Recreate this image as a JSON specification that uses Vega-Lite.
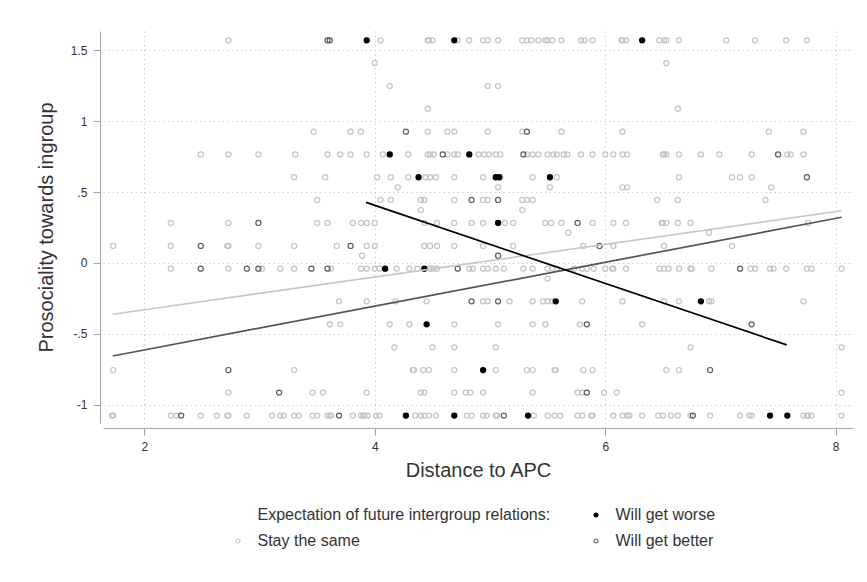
{
"$schema": "https://vega.github.io/schema/vega-lite/v6.json",
"width": 750, "height": 392,
"autosize": {"type": "none"},
"padding": {"left": 103, "top": 31, "right": 14, "bottom": 159},
"background": "white",
"config": {"view": {"stroke": null}, "font": "Liberation Sans",
 "axis": {"domain": true, "domainColor": "#a8a8a8", "domainWidth": 1, "grid": true, "gridColor": "#b8b8b8", "gridDash": [1, 3.6], "gridWidth": 1, "tickSize": 7, "tickColor": "#a0a0a0", "tickWidth": 1, "labelFontSize": 12, "labelColor": "#333333", "labelPadding": 6, "titleFontSize": 20, "titleFontWeight": "normal", "titleColor": "#333333", "labelFlush": false}},
"datasets": {
"pts": [
{"x":2.73,"y":1.568,"g":"Stay the same"},{"x":4.05,"y":1.568,"g":"Stay the same"},{"x":4.46,"y":1.568,"g":"Stay the same"},{"x":4.47,"y":1.568,"g":"Stay the same"},{"x":4.50,"y":1.568,"g":"Stay the same"},{"x":4.72,"y":1.568,"g":"Stay the same"},{"x":4.82,"y":1.568,"g":"Stay the same"},{"x":4.94,"y":1.568,"g":"Stay the same"},{"x":4.98,"y":1.568,"g":"Stay the same"},{"x":5.07,"y":1.568,"g":"Stay the same"},{"x":5.28,"y":1.568,"g":"Stay the same"},{"x":5.32,"y":1.568,"g":"Stay the same"},{"x":5.36,"y":1.568,"g":"Stay the same"},{"x":5.42,"y":1.568,"g":"Stay the same"},{"x":5.48,"y":1.568,"g":"Stay the same"},{"x":5.50,"y":1.568,"g":"Stay the same"},{"x":5.54,"y":1.568,"g":"Stay the same"},{"x":5.62,"y":1.568,"g":"Stay the same"},{"x":5.79,"y":1.568,"g":"Stay the same"},{"x":5.82,"y":1.568,"g":"Stay the same"},{"x":5.89,"y":1.568,"g":"Stay the same"},{"x":6.14,"y":1.568,"g":"Stay the same"},{"x":6.15,"y":1.568,"g":"Stay the same"},{"x":6.18,"y":1.568,"g":"Stay the same"},{"x":6.47,"y":1.568,"g":"Stay the same"},{"x":6.51,"y":1.568,"g":"Stay the same"},{"x":6.53,"y":1.568,"g":"Stay the same"},{"x":6.64,"y":1.568,"g":"Stay the same"},{"x":7.05,"y":1.568,"g":"Stay the same"},{"x":7.30,"y":1.568,"g":"Stay the same"},{"x":7.57,"y":1.568,"g":"Stay the same"},{"x":7.75,"y":1.568,"g":"Stay the same"},
{"x":4.00,"y":1.408,"g":"Stay the same"},{"x":6.53,"y":1.408,"g":"Stay the same"},
{"x":4.13,"y":1.246,"g":"Stay the same"},{"x":4.98,"y":1.246,"g":"Stay the same"},{"x":5.07,"y":1.246,"g":"Stay the same"},
{"x":4.46,"y":1.087,"g":"Stay the same"},{"x":6.63,"y":1.087,"g":"Stay the same"},
{"x":3.47,"y":0.925,"g":"Stay the same"},{"x":3.79,"y":0.925,"g":"Stay the same"},{"x":3.88,"y":0.925,"g":"Stay the same"},{"x":4.46,"y":0.925,"g":"Stay the same"},{"x":4.63,"y":0.925,"g":"Stay the same"},{"x":4.69,"y":0.925,"g":"Stay the same"},{"x":4.98,"y":0.925,"g":"Stay the same"},{"x":5.28,"y":0.925,"g":"Stay the same"},{"x":5.62,"y":0.925,"g":"Stay the same"},{"x":6.15,"y":0.925,"g":"Stay the same"},{"x":7.42,"y":0.925,"g":"Stay the same"},{"x":7.72,"y":0.925,"g":"Stay the same"},
{"x":2.49,"y":0.765,"g":"Stay the same"},{"x":2.73,"y":0.765,"g":"Stay the same"},{"x":2.99,"y":0.765,"g":"Stay the same"},{"x":3.31,"y":0.765,"g":"Stay the same"},{"x":3.59,"y":0.765,"g":"Stay the same"},{"x":3.70,"y":0.765,"g":"Stay the same"},{"x":3.79,"y":0.765,"g":"Stay the same"},{"x":3.93,"y":0.765,"g":"Stay the same"},{"x":4.07,"y":0.765,"g":"Stay the same"},{"x":4.29,"y":0.765,"g":"Stay the same"},{"x":4.46,"y":0.765,"g":"Stay the same"},{"x":4.48,"y":0.765,"g":"Stay the same"},{"x":4.51,"y":0.765,"g":"Stay the same"},{"x":4.63,"y":0.765,"g":"Stay the same"},{"x":4.69,"y":0.765,"g":"Stay the same"},{"x":4.72,"y":0.765,"g":"Stay the same"},{"x":4.90,"y":0.765,"g":"Stay the same"},{"x":4.95,"y":0.765,"g":"Stay the same"},{"x":4.99,"y":0.765,"g":"Stay the same"},{"x":5.05,"y":0.765,"g":"Stay the same"},{"x":5.09,"y":0.765,"g":"Stay the same"},{"x":5.32,"y":0.765,"g":"Stay the same"},{"x":5.37,"y":0.765,"g":"Stay the same"},{"x":5.42,"y":0.765,"g":"Stay the same"},{"x":5.50,"y":0.765,"g":"Stay the same"},{"x":5.55,"y":0.765,"g":"Stay the same"},{"x":5.58,"y":0.765,"g":"Stay the same"},{"x":5.64,"y":0.765,"g":"Stay the same"},{"x":5.67,"y":0.765,"g":"Stay the same"},{"x":5.79,"y":0.765,"g":"Stay the same"},{"x":5.89,"y":0.765,"g":"Stay the same"},{"x":6.00,"y":0.765,"g":"Stay the same"},{"x":6.07,"y":0.765,"g":"Stay the same"},{"x":6.15,"y":0.765,"g":"Stay the same"},{"x":6.19,"y":0.765,"g":"Stay the same"},{"x":6.50,"y":0.765,"g":"Stay the same"},{"x":6.51,"y":0.765,"g":"Stay the same"},{"x":6.53,"y":0.765,"g":"Stay the same"},{"x":6.64,"y":0.765,"g":"Stay the same"},{"x":6.83,"y":0.765,"g":"Stay the same"},{"x":6.99,"y":0.765,"g":"Stay the same"},{"x":7.27,"y":0.765,"g":"Stay the same"},{"x":7.58,"y":0.765,"g":"Stay the same"},{"x":7.61,"y":0.765,"g":"Stay the same"},{"x":7.72,"y":0.765,"g":"Stay the same"},
{"x":3.30,"y":0.604,"g":"Stay the same"},{"x":3.57,"y":0.604,"g":"Stay the same"},{"x":4.02,"y":0.604,"g":"Stay the same"},{"x":4.14,"y":0.604,"g":"Stay the same"},{"x":4.29,"y":0.604,"g":"Stay the same"},{"x":4.44,"y":0.604,"g":"Stay the same"},{"x":4.48,"y":0.604,"g":"Stay the same"},{"x":4.53,"y":0.604,"g":"Stay the same"},{"x":4.69,"y":0.604,"g":"Stay the same"},{"x":4.94,"y":0.604,"g":"Stay the same"},{"x":5.09,"y":0.604,"g":"Stay the same"},{"x":5.37,"y":0.604,"g":"Stay the same"},{"x":5.58,"y":0.604,"g":"Stay the same"},{"x":6.64,"y":0.604,"g":"Stay the same"},{"x":7.10,"y":0.604,"g":"Stay the same"},{"x":7.17,"y":0.604,"g":"Stay the same"},{"x":7.27,"y":0.604,"g":"Stay the same"},
{"x":4.20,"y":0.533,"g":"Stay the same"},{"x":5.07,"y":0.533,"g":"Stay the same"},{"x":5.52,"y":0.533,"g":"Stay the same"},{"x":6.15,"y":0.533,"g":"Stay the same"},{"x":6.19,"y":0.533,"g":"Stay the same"},{"x":7.44,"y":0.533,"g":"Stay the same"},
{"x":3.50,"y":0.444,"g":"Stay the same"},{"x":4.05,"y":0.444,"g":"Stay the same"},{"x":4.14,"y":0.444,"g":"Stay the same"},{"x":4.40,"y":0.444,"g":"Stay the same"},{"x":4.43,"y":0.444,"g":"Stay the same"},{"x":4.69,"y":0.444,"g":"Stay the same"},{"x":4.94,"y":0.444,"g":"Stay the same"},{"x":4.98,"y":0.444,"g":"Stay the same"},{"x":5.28,"y":0.444,"g":"Stay the same"},{"x":5.32,"y":0.444,"g":"Stay the same"},{"x":5.37,"y":0.444,"g":"Stay the same"},{"x":6.45,"y":0.444,"g":"Stay the same"},{"x":6.63,"y":0.444,"g":"Stay the same"},{"x":7.39,"y":0.444,"g":"Stay the same"},
{"x":4.40,"y":0.373,"g":"Stay the same"},{"x":5.28,"y":0.373,"g":"Stay the same"},
{"x":2.23,"y":0.282,"g":"Stay the same"},{"x":2.73,"y":0.282,"g":"Stay the same"},{"x":3.50,"y":0.282,"g":"Stay the same"},{"x":3.59,"y":0.282,"g":"Stay the same"},{"x":3.81,"y":0.282,"g":"Stay the same"},{"x":3.88,"y":0.282,"g":"Stay the same"},{"x":3.93,"y":0.282,"g":"Stay the same"},{"x":4.00,"y":0.282,"g":"Stay the same"},{"x":4.43,"y":0.282,"g":"Stay the same"},{"x":4.54,"y":0.282,"g":"Stay the same"},{"x":4.69,"y":0.282,"g":"Stay the same"},{"x":4.84,"y":0.282,"g":"Stay the same"},{"x":4.94,"y":0.282,"g":"Stay the same"},{"x":5.13,"y":0.282,"g":"Stay the same"},{"x":5.20,"y":0.282,"g":"Stay the same"},{"x":5.48,"y":0.282,"g":"Stay the same"},{"x":5.53,"y":0.282,"g":"Stay the same"},{"x":5.62,"y":0.282,"g":"Stay the same"},{"x":5.89,"y":0.282,"g":"Stay the same"},{"x":6.07,"y":0.282,"g":"Stay the same"},{"x":6.18,"y":0.282,"g":"Stay the same"},{"x":6.49,"y":0.282,"g":"Stay the same"},{"x":6.50,"y":0.282,"g":"Stay the same"},{"x":6.53,"y":0.282,"g":"Stay the same"},{"x":6.63,"y":0.282,"g":"Stay the same"},{"x":6.74,"y":0.282,"g":"Stay the same"},{"x":7.76,"y":0.282,"g":"Stay the same"},
{"x":5.68,"y":0.213,"g":"Stay the same"},{"x":6.90,"y":0.213,"g":"Stay the same"},
{"x":1.73,"y":0.120,"g":"Stay the same"},{"x":2.23,"y":0.120,"g":"Stay the same"},{"x":2.72,"y":0.120,"g":"Stay the same"},{"x":2.73,"y":0.120,"g":"Stay the same"},{"x":2.99,"y":0.120,"g":"Stay the same"},{"x":3.30,"y":0.120,"g":"Stay the same"},{"x":3.67,"y":0.120,"g":"Stay the same"},{"x":3.93,"y":0.120,"g":"Stay the same"},{"x":4.00,"y":0.120,"g":"Stay the same"},{"x":4.43,"y":0.120,"g":"Stay the same"},{"x":4.48,"y":0.120,"g":"Stay the same"},{"x":4.54,"y":0.120,"g":"Stay the same"},{"x":4.69,"y":0.120,"g":"Stay the same"},{"x":4.94,"y":0.120,"g":"Stay the same"},{"x":5.20,"y":0.120,"g":"Stay the same"},{"x":5.81,"y":0.120,"g":"Stay the same"},{"x":6.07,"y":0.120,"g":"Stay the same"},{"x":6.51,"y":0.120,"g":"Stay the same"},{"x":7.10,"y":0.120,"g":"Stay the same"},
{"x":3.89,"y":0.051,"g":"Stay the same"},
{"x":2.23,"y":-0.04,"g":"Stay the same"},{"x":2.73,"y":-0.04,"g":"Stay the same"},{"x":3.02,"y":-0.04,"g":"Stay the same"},{"x":3.18,"y":-0.04,"g":"Stay the same"},{"x":3.30,"y":-0.04,"g":"Stay the same"},{"x":3.62,"y":-0.04,"g":"Stay the same"},{"x":3.88,"y":-0.04,"g":"Stay the same"},{"x":3.93,"y":-0.04,"g":"Stay the same"},{"x":4.00,"y":-0.04,"g":"Stay the same"},{"x":4.04,"y":-0.04,"g":"Stay the same"},{"x":4.19,"y":-0.04,"g":"Stay the same"},{"x":4.30,"y":-0.04,"g":"Stay the same"},{"x":4.37,"y":-0.04,"g":"Stay the same"},{"x":4.48,"y":-0.04,"g":"Stay the same"},{"x":4.51,"y":-0.04,"g":"Stay the same"},{"x":4.54,"y":-0.04,"g":"Stay the same"},{"x":4.82,"y":-0.04,"g":"Stay the same"},{"x":4.85,"y":-0.04,"g":"Stay the same"},{"x":4.94,"y":-0.04,"g":"Stay the same"},{"x":4.98,"y":-0.04,"g":"Stay the same"},{"x":5.05,"y":-0.04,"g":"Stay the same"},{"x":5.12,"y":-0.04,"g":"Stay the same"},{"x":5.29,"y":-0.04,"g":"Stay the same"},{"x":5.37,"y":-0.04,"g":"Stay the same"},{"x":5.50,"y":-0.04,"g":"Stay the same"},{"x":5.54,"y":-0.04,"g":"Stay the same"},{"x":5.58,"y":-0.04,"g":"Stay the same"},{"x":5.73,"y":-0.04,"g":"Stay the same"},{"x":5.80,"y":-0.04,"g":"Stay the same"},{"x":5.84,"y":-0.04,"g":"Stay the same"},{"x":5.90,"y":-0.04,"g":"Stay the same"},{"x":6.00,"y":-0.04,"g":"Stay the same"},{"x":6.06,"y":-0.04,"g":"Stay the same"},{"x":6.07,"y":-0.04,"g":"Stay the same"},{"x":6.18,"y":-0.04,"g":"Stay the same"},{"x":6.47,"y":-0.04,"g":"Stay the same"},{"x":6.51,"y":-0.04,"g":"Stay the same"},{"x":6.55,"y":-0.04,"g":"Stay the same"},{"x":6.64,"y":-0.04,"g":"Stay the same"},{"x":6.74,"y":-0.04,"g":"Stay the same"},{"x":6.75,"y":-0.04,"g":"Stay the same"},{"x":6.92,"y":-0.04,"g":"Stay the same"},{"x":7.26,"y":-0.04,"g":"Stay the same"},{"x":7.30,"y":-0.04,"g":"Stay the same"},{"x":7.43,"y":-0.04,"g":"Stay the same"},{"x":7.46,"y":-0.04,"g":"Stay the same"},{"x":7.57,"y":-0.04,"g":"Stay the same"},{"x":7.75,"y":-0.04,"g":"Stay the same"},{"x":7.79,"y":-0.04,"g":"Stay the same"},{"x":8.05,"y":-0.04,"g":"Stay the same"},
{"x":5.50,"y":-0.11,"g":"Stay the same"},
{"x":3.69,"y":-0.27,"g":"Stay the same"},{"x":3.93,"y":-0.27,"g":"Stay the same"},{"x":4.18,"y":-0.27,"g":"Stay the same"},{"x":4.45,"y":-0.27,"g":"Stay the same"},{"x":4.94,"y":-0.27,"g":"Stay the same"},{"x":4.98,"y":-0.27,"g":"Stay the same"},{"x":5.17,"y":-0.27,"g":"Stay the same"},{"x":5.37,"y":-0.27,"g":"Stay the same"},{"x":5.46,"y":-0.27,"g":"Stay the same"},{"x":5.50,"y":-0.27,"g":"Stay the same"},{"x":5.54,"y":-0.27,"g":"Stay the same"},{"x":5.80,"y":-0.27,"g":"Stay the same"},{"x":6.15,"y":-0.27,"g":"Stay the same"},{"x":6.51,"y":-0.27,"g":"Stay the same"},{"x":6.64,"y":-0.27,"g":"Stay the same"},{"x":6.90,"y":-0.27,"g":"Stay the same"},{"x":6.92,"y":-0.27,"g":"Stay the same"},{"x":7.72,"y":-0.27,"g":"Stay the same"},
{"x":3.61,"y":-0.432,"g":"Stay the same"},{"x":3.70,"y":-0.432,"g":"Stay the same"},{"x":4.13,"y":-0.432,"g":"Stay the same"},{"x":4.30,"y":-0.432,"g":"Stay the same"},{"x":4.69,"y":-0.432,"g":"Stay the same"},{"x":5.07,"y":-0.432,"g":"Stay the same"},{"x":5.37,"y":-0.432,"g":"Stay the same"},{"x":5.48,"y":-0.432,"g":"Stay the same"},{"x":5.78,"y":-0.432,"g":"Stay the same"},{"x":6.32,"y":-0.432,"g":"Stay the same"},
{"x":4.17,"y":-0.594,"g":"Stay the same"},{"x":4.50,"y":-0.594,"g":"Stay the same"},{"x":4.69,"y":-0.594,"g":"Stay the same"},{"x":5.05,"y":-0.594,"g":"Stay the same"},{"x":6.74,"y":-0.594,"g":"Stay the same"},{"x":8.05,"y":-0.594,"g":"Stay the same"},
{"x":1.73,"y":-0.754,"g":"Stay the same"},{"x":3.30,"y":-0.754,"g":"Stay the same"},{"x":4.33,"y":-0.754,"g":"Stay the same"},{"x":4.34,"y":-0.754,"g":"Stay the same"},{"x":4.42,"y":-0.754,"g":"Stay the same"},{"x":4.47,"y":-0.754,"g":"Stay the same"},{"x":4.69,"y":-0.754,"g":"Stay the same"},{"x":5.05,"y":-0.754,"g":"Stay the same"},{"x":5.32,"y":-0.754,"g":"Stay the same"},{"x":5.37,"y":-0.754,"g":"Stay the same"},{"x":5.56,"y":-0.754,"g":"Stay the same"},{"x":5.57,"y":-0.754,"g":"Stay the same"},{"x":5.81,"y":-0.754,"g":"Stay the same"},{"x":5.89,"y":-0.754,"g":"Stay the same"},{"x":6.53,"y":-0.754,"g":"Stay the same"},{"x":6.64,"y":-0.754,"g":"Stay the same"},
{"x":2.73,"y":-0.913,"g":"Stay the same"},{"x":3.46,"y":-0.913,"g":"Stay the same"},{"x":3.55,"y":-0.913,"g":"Stay the same"},{"x":3.93,"y":-0.913,"g":"Stay the same"},{"x":4.40,"y":-0.913,"g":"Stay the same"},{"x":4.43,"y":-0.913,"g":"Stay the same"},{"x":4.69,"y":-0.913,"g":"Stay the same"},{"x":4.79,"y":-0.913,"g":"Stay the same"},{"x":4.83,"y":-0.913,"g":"Stay the same"},{"x":4.94,"y":-0.913,"g":"Stay the same"},{"x":5.37,"y":-0.913,"g":"Stay the same"},{"x":5.76,"y":-0.913,"g":"Stay the same"},{"x":5.80,"y":-0.913,"g":"Stay the same"},{"x":5.99,"y":-0.913,"g":"Stay the same"},{"x":6.10,"y":-0.913,"g":"Stay the same"},{"x":8.05,"y":-0.913,"g":"Stay the same"},
{"x":1.72,"y":-1.075,"g":"Stay the same"},{"x":1.73,"y":-1.075,"g":"Stay the same"},{"x":2.23,"y":-1.075,"g":"Stay the same"},{"x":2.28,"y":-1.075,"g":"Stay the same"},{"x":2.49,"y":-1.075,"g":"Stay the same"},{"x":2.63,"y":-1.075,"g":"Stay the same"},{"x":2.72,"y":-1.075,"g":"Stay the same"},{"x":2.73,"y":-1.075,"g":"Stay the same"},{"x":2.89,"y":-1.075,"g":"Stay the same"},{"x":3.11,"y":-1.075,"g":"Stay the same"},{"x":3.18,"y":-1.075,"g":"Stay the same"},{"x":3.21,"y":-1.075,"g":"Stay the same"},{"x":3.30,"y":-1.075,"g":"Stay the same"},{"x":3.34,"y":-1.075,"g":"Stay the same"},{"x":3.46,"y":-1.075,"g":"Stay the same"},{"x":3.50,"y":-1.075,"g":"Stay the same"},{"x":3.59,"y":-1.075,"g":"Stay the same"},{"x":3.61,"y":-1.075,"g":"Stay the same"},{"x":3.62,"y":-1.075,"g":"Stay the same"},{"x":3.81,"y":-1.075,"g":"Stay the same"},{"x":3.88,"y":-1.075,"g":"Stay the same"},{"x":3.90,"y":-1.075,"g":"Stay the same"},{"x":3.91,"y":-1.075,"g":"Stay the same"},{"x":3.94,"y":-1.075,"g":"Stay the same"},{"x":4.01,"y":-1.075,"g":"Stay the same"},{"x":4.04,"y":-1.075,"g":"Stay the same"},{"x":4.35,"y":-1.075,"g":"Stay the same"},{"x":4.40,"y":-1.075,"g":"Stay the same"},{"x":4.43,"y":-1.075,"g":"Stay the same"},{"x":4.47,"y":-1.075,"g":"Stay the same"},{"x":4.53,"y":-1.075,"g":"Stay the same"},{"x":4.80,"y":-1.075,"g":"Stay the same"},{"x":4.84,"y":-1.075,"g":"Stay the same"},{"x":4.94,"y":-1.075,"g":"Stay the same"},{"x":4.97,"y":-1.075,"g":"Stay the same"},{"x":5.05,"y":-1.075,"g":"Stay the same"},{"x":5.06,"y":-1.075,"g":"Stay the same"},{"x":5.38,"y":-1.075,"g":"Stay the same"},{"x":5.50,"y":-1.075,"g":"Stay the same"},{"x":5.56,"y":-1.075,"g":"Stay the same"},{"x":5.61,"y":-1.075,"g":"Stay the same"},{"x":5.76,"y":-1.075,"g":"Stay the same"},{"x":5.80,"y":-1.075,"g":"Stay the same"},{"x":5.88,"y":-1.075,"g":"Stay the same"},{"x":5.89,"y":-1.075,"g":"Stay the same"},{"x":6.07,"y":-1.075,"g":"Stay the same"},{"x":6.15,"y":-1.075,"g":"Stay the same"},{"x":6.19,"y":-1.075,"g":"Stay the same"},{"x":6.21,"y":-1.075,"g":"Stay the same"},{"x":6.32,"y":-1.075,"g":"Stay the same"},{"x":6.46,"y":-1.075,"g":"Stay the same"},{"x":6.50,"y":-1.075,"g":"Stay the same"},{"x":6.57,"y":-1.075,"g":"Stay the same"},{"x":6.63,"y":-1.075,"g":"Stay the same"},{"x":6.74,"y":-1.075,"g":"Stay the same"},{"x":6.91,"y":-1.075,"g":"Stay the same"},{"x":7.17,"y":-1.075,"g":"Stay the same"},{"x":7.25,"y":-1.075,"g":"Stay the same"},{"x":7.27,"y":-1.075,"g":"Stay the same"},{"x":7.72,"y":-1.075,"g":"Stay the same"},{"x":7.75,"y":-1.075,"g":"Stay the same"},{"x":7.76,"y":-1.075,"g":"Stay the same"},{"x":7.79,"y":-1.075,"g":"Stay the same"},{"x":8.05,"y":-1.075,"g":"Stay the same"},
{"x":3.59,"y":1.568,"g":"Will get better"},{"x":3.61,"y":1.568,"g":"Will get better"},
{"x":4.27,"y":0.925,"g":"Will get better"},{"x":5.32,"y":0.925,"g":"Will get better"},
{"x":4.59,"y":0.765,"g":"Will get better"},{"x":5.29,"y":0.765,"g":"Will get better"},{"x":7.50,"y":0.765,"g":"Will get better"},
{"x":7.75,"y":0.604,"g":"Will get better"},
{"x":4.84,"y":0.444,"g":"Will get better"},{"x":5.07,"y":0.444,"g":"Will get better"},
{"x":2.99,"y":0.282,"g":"Will get better"},{"x":5.76,"y":0.282,"g":"Will get better"},
{"x":2.49,"y":0.120,"g":"Will get better"},{"x":3.79,"y":0.120,"g":"Will get better"},{"x":5.95,"y":0.120,"g":"Will get better"},
{"x":5.07,"y":0.051,"g":"Will get better"},
{"x":2.49,"y":-0.04,"g":"Will get better"},{"x":2.89,"y":-0.04,"g":"Will get better"},{"x":2.99,"y":-0.04,"g":"Will get better"},{"x":3.45,"y":-0.04,"g":"Will get better"},{"x":3.59,"y":-0.04,"g":"Will get better"},{"x":4.72,"y":-0.04,"g":"Will get better"},{"x":7.17,"y":-0.04,"g":"Will get better"},
{"x":4.84,"y":-0.27,"g":"Will get better"},{"x":5.07,"y":-0.27,"g":"Will get better"},
{"x":5.84,"y":-0.432,"g":"Will get better"},{"x":7.27,"y":-0.432,"g":"Will get better"},
{"x":2.73,"y":-0.754,"g":"Will get better"},{"x":6.91,"y":-0.754,"g":"Will get better"},
{"x":3.17,"y":-0.913,"g":"Will get better"},{"x":5.84,"y":-0.913,"g":"Will get better"},
{"x":2.32,"y":-1.075,"g":"Will get better"},{"x":3.69,"y":-1.075,"g":"Will get better"},{"x":5.12,"y":-1.075,"g":"Will get better"},{"x":6.76,"y":-1.075,"g":"Will get better"},
{"x":3.93,"y":1.568,"g":"Will get worse"},{"x":4.69,"y":1.568,"g":"Will get worse"},{"x":6.32,"y":1.568,"g":"Will get worse"},
{"x":4.13,"y":0.765,"g":"Will get worse"},{"x":4.82,"y":0.765,"g":"Will get worse"},
{"x":4.38,"y":0.604,"g":"Will get worse"},{"x":5.05,"y":0.604,"g":"Will get worse"},{"x":5.08,"y":0.604,"g":"Will get worse"},{"x":5.52,"y":0.604,"g":"Will get worse"},
{"x":5.07,"y":0.282,"g":"Will get worse"},
{"x":4.09,"y":-0.04,"g":"Will get worse"},{"x":4.43,"y":-0.04,"g":"Will get worse"},
{"x":5.57,"y":-0.27,"g":"Will get worse"},{"x":6.83,"y":-0.27,"g":"Will get worse"},
{"x":4.45,"y":-0.432,"g":"Will get worse"},
{"x":4.94,"y":-0.754,"g":"Will get worse"},
{"x":4.27,"y":-1.075,"g":"Will get worse"},{"x":4.69,"y":-1.075,"g":"Will get worse"},{"x":5.33,"y":-1.075,"g":"Will get worse"},{"x":7.43,"y":-1.075,"g":"Will get worse"},{"x":7.58,"y":-1.075,"g":"Will get worse"}
],
"fits": [
{"x":1.726,"y":-0.361,"fit":"Stay the same"},{"x":8.052,"y":0.368,"fit":"Stay the same"},
{"x":1.726,"y":-0.655,"fit":"Will get better"},{"x":8.052,"y":0.322,"fit":"Will get better"},
{"x":3.924,"y":0.427,"fit":"Will get worse"},{"x":7.575,"y":-0.577,"fit":"Will get worse"}
]
},
"encoding": {
 "x": {"field": "x", "type": "quantitative", "scale": {"domain": [1.6416, 8.15], "nice": false, "zero": false},
  "axis": {"values": [2, 4, 6, 8], "offset": 5, "labelPadding": 6, "titlePadding": 8}, "title": "Distance to APC"},
 "y": {"field": "y", "type": "quantitative", "scale": {"domain": [-1.127, 1.634], "nice": false, "zero": false},
  "axis": {"values": [-1, -0.5, 0, 0.5, 1, 1.5], "offset": 3, "labelPadding": 6, "titlePadding": 14,
   "labelExpr": "datum.value == 0.5 ? '.5' : datum.value == -0.5 ? '-.5' : toString(datum.value)"}, "title": "Prosociality towards ingroup"}
},
"layer": [
 {"data": {"name": "pts"},
  "mark": {"type": "point", "filled": false, "opacity": 1, "size": 26, "strokeWidth": 1.2},
  "encoding": {
   "color": {"field": "g", "type": "nominal",
    "scale": {"domain": ["Expectation of future intergroup relations:", "Stay the same", "Will get worse", "Will get better"], "range": ["transparent", "#c4c4c4", "#000000", "#5e5e5e"]},
    "legend": {"orient": "none", "legendX": 127, "legendY": 476, "columns": 2, "title": null, "padding": 0, "symbolType": "circle", "symbolSize": 16, "symbolStrokeWidth": 1.2, "labelFontSize": 16, "labelColor": "#333333", "labelOffset": 11.5, "labelLimit": 600, "columnPadding": 37, "rowPadding": 10}},
   "fill": {"field": "g", "type": "nominal",
    "scale": {"domain": ["Expectation of future intergroup relations:", "Stay the same", "Will get worse", "Will get better"], "range": ["transparent", "transparent", "#000000", "transparent"]},
    "legend": {"orient": "none", "legendX": 127, "legendY": 476, "columns": 2, "title": null, "padding": 0, "symbolType": "circle", "symbolSize": 16, "symbolStrokeWidth": 1.2, "labelFontSize": 16, "labelColor": "#333333", "labelOffset": 11.5, "labelLimit": 600, "columnPadding": 37, "rowPadding": 10}}
  }},
 {"data": {"name": "fits"},
  "mark": {"type": "line", "strokeWidth": 1.7},
  "encoding": {
   "stroke": {"field": "fit", "type": "nominal", "scale": {"domain": ["Stay the same", "Will get better", "Will get worse"], "range": ["#c8c8c8", "#555555", "#000000"]}, "legend": null}
  }}
]
}
